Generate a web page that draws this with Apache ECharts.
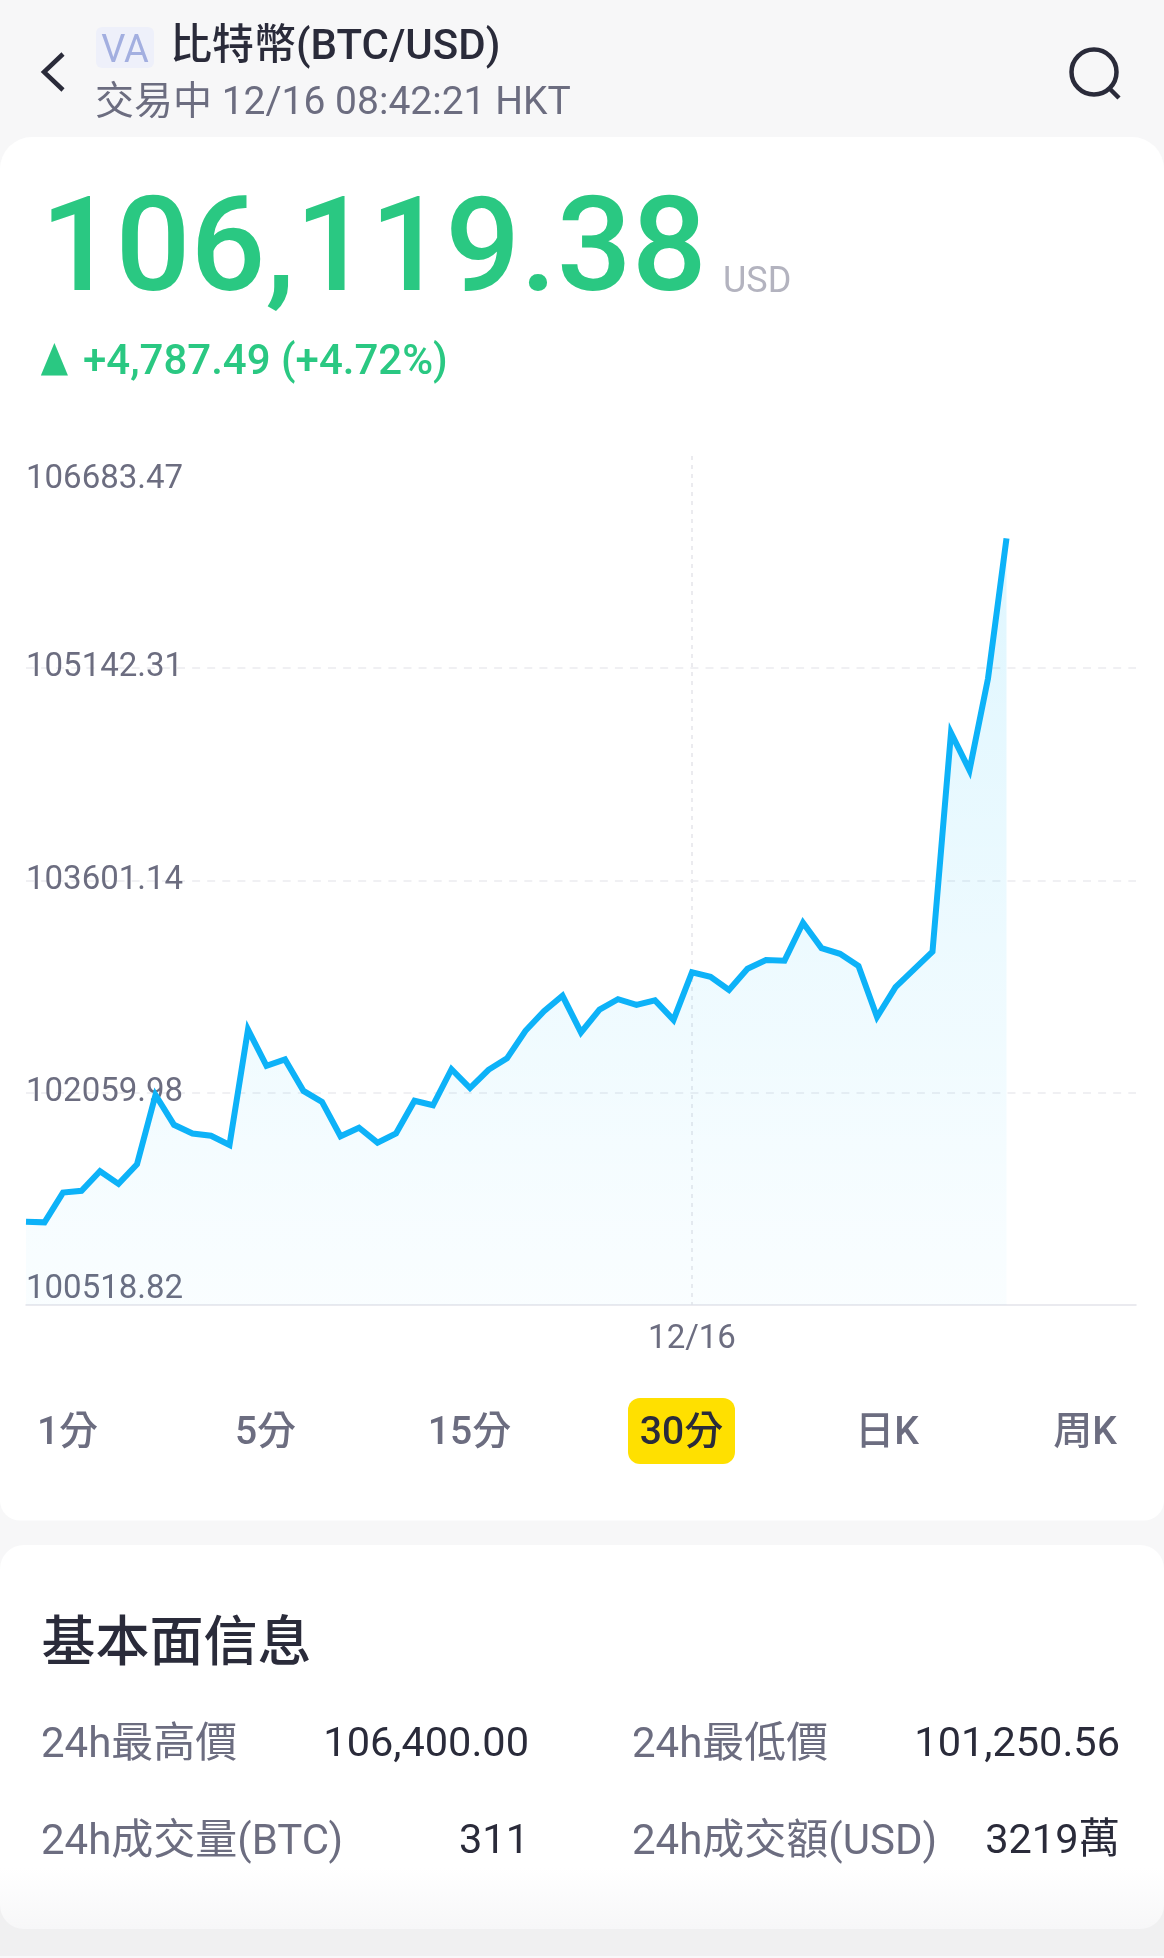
<!DOCTYPE html>
<html><head><meta charset="utf-8">
<style>html,body{margin:0;padding:0;background:#f7f7f8}#c{width:1164px;height:1958px}</style>
<script src="https://cdn.jsdelivr.net/npm/echarts@6/dist/echarts.min.js"></script>
</head><body><div id="c"></div>
<script>
const prices = [101123,101119,101335,101348,101490,101398,101540,102044,101827,101764,101748,101681,102519,102256,102302,102073,101994,101744,101806,101698,101765,102002,101969,102231,102094,102227,102310,102510,102652,102764,102498,102664,102739,102698,102731,102589,102935,102902,102806,102960,103023,103019,103294,103110,103069,102981,102610,102827,102956,103085,104673,104402,105068,106085];
const slotCount = 61;
const dateSlot = 36;
const dateLabel = '12/16';
const yTicks = [100518.82,102059.98,103601.14,105142.31,106683.47];
const tabs = ['1分','5分','15分','30分','日K','周K'];
const activeTab = '30分';
const statLabels = ['24h最高價','24h最低價','24h成交量(BTC)','24h成交額(USD)'];
const statValues = ['106,400.00','101,250.56','311','3219萬'];

const FONT = 'Roboto, "Noto Sans CJK TC", sans-serif';
const DARK = '#2a2b3a', GREY = '#6c6d80', GREEN = '#2ac882';
const slots = Array.from({length: slotCount}, (_, i) => i === dateSlot ? dateLabel : String(i));
const series = slots.map((_, i) => i < prices.length ? prices[i] : null);

function t(text, x, y, size, fill, weight, align) {
  return {type:'text', z:20, silent:true, style:{text, x, y, fill, font:`${weight||400} ${size}px ${FONT}`, align:align||'left', verticalAlign:'middle'}};
}
const tabX = [67.5,265.5,469.5,681.5,887,1085];
const tabEls = tabs.map((s,i) => t(s, tabX[i], 1434, 39, s===activeTab?DARK:GREY, 500, 'center'));
const statPos = [[41,529,1746],[632,1120,1746],[41,529,1843],[632,1120,1843]];
const statEls = [];
statLabels.forEach((s,i)=>{ statEls.push(t(s, statPos[i][0], statPos[i][2], 42, GREY, 400)); statEls.push(t(statValues[i], statPos[i][1], statPos[i][2], 41.5, DARK, 400, 'right')); });

const graphic = [
  {type:'rect', z:-12, silent:true, shape:{x:0,y:1880,width:1164,height:76}, style:{fill:'#f0f0f1'}},
  {type:'rect', z:-12, silent:true, shape:{x:0,y:1956,width:1164,height:2}, style:{fill:'#f8f8f9'}},
  {type:'rect', z:-10, silent:true, shape:{x:0,y:137,width:1164,height:1383.5,r:[32,32,20,20]}, style:{fill:'#fff'}},
  {type:'rect', z:-10, silent:true, shape:{x:0,y:1545,width:1164,height:384,r:24}, style:{fill:{type:'linear',x:0,y:0,x2:0,y2:1,colorStops:[{offset:0,color:'#fff'},{offset:0.84,color:'#fff'},{offset:1,color:'#f7f7f8'}]}}},
  {type:'polyline', z:20, silent:true, shape:{points:[[63,54],[44,72],[63,90]]}, style:{stroke:DARK,lineWidth:4.5,fill:'none'}},
  {type:'rect', z:15, silent:true, shape:{x:96,y:27,width:58,height:41,r:6}, style:{fill:'#eef0fa'}},
  t('VA',125,52,38,'#a3afe0',400,'center'),
  t('比特幣(BTC/USD)',170,48,42,DARK,500),
  t('交易中 12/16 08:42:21 HKT',95,104.5,39,GREY,400),
  {type:'circle', z:20, silent:true, shape:{cx:1094,cy:72,r:22.5}, style:{stroke:DARK,lineWidth:4.5,fill:'none'}},
  {type:'line', z:20, silent:true, shape:{x1:1109,y1:88,x2:1119,y2:98}, style:{stroke:DARK,lineWidth:4.5}},
  t('106,119.38',40.5,257,132,GREEN,500),
  t('USD',723,283,36,'#b3b3bf',400),
  {type:'text', z:20, silent:true, x:54.5, y:366, scaleX:0.9, scaleY:1.25, style:{text:'▲',x:0,y:0,fill:GREEN,font:`400 32px ${FONT}`,align:'center',verticalAlign:'middle'}},
  t('+4,787.49 (+4.72%)',83,363,42,GREEN,500),
  {type:'rect', z:15, silent:true, shape:{x:628,y:1398,width:107,height:66,r:12}, style:{fill:'#ffe000'}},
  ...tabEls,
  t('基本面信息',41.5,1647,54,DARK,500),
  ...statEls
];

const chart = echarts.init(document.getElementById('c'), null, {renderer:'canvas'});
chart.setOption({
  animation:false,
  backgroundColor:'#f7f7f8',
  textStyle:{fontFamily:FONT},
  graphic,
  grid:{left:26,right:28,top:456,bottom:653,containLabel:false},
  xAxis:{type:'category',boundaryGap:false,data:slots,
    axisLine:{show:true,lineStyle:{color:'#e3e4ea',width:1.5}},axisTick:{show:false},
    axisLabel:{interval:(i)=>i===dateSlot,formatter:(v)=>v===dateLabel?v:'',color:GREY,fontSize:33,fontFamily:FONT,margin:18},
    splitLine:{show:true,interval:(i)=>i===dateSlot,lineStyle:{color:'#ebebef',type:[4,5],width:2}}},
  yAxis:{type:'value',min:yTicks[0],max:yTicks[yTicks.length-1],
    axisLine:{show:false},axisTick:{show:false,customValues:yTicks},
    axisLabel:{inside:true,margin:0,customValues:yTicks,showMinLabel:true,showMaxLabel:true,
      verticalAlignMinLabel:'bottom',verticalAlignMaxLabel:'top',
      formatter:(v)=>{const n=+v;const s=n.toFixed(2);const tag=n<yTicks[1]?'lo':(n>yTicks[3]?'hi':'mid');return `{${tag}|${s}}`;},
      rich:{lo:{color:GREY,fontSize:33,fontFamily:FONT,lineHeight:31},hi:{color:GREY,fontSize:33,fontFamily:FONT,lineHeight:47},
        mid:{color:GREY,fontSize:33,fontFamily:FONT}}},
    splitLine:{show:true,showMinLine:false,showMaxLine:false,lineStyle:{color:'#ececf0',type:[8,7.1],width:1.5}}},
  series:[{type:'line',data:series,showSymbol:false,symbol:'none',smooth:false,connectNulls:false,
    lineStyle:{color:'#0db2f8',width:6,cap:'butt',join:'miter',miterLimit:10},
    areaStyle:{color:{type:'linear',x:0,y:0,x2:0,y2:1,colorStops:[{offset:0,color:'rgba(0,185,250,0.18)'},{offset:1,color:'rgba(0,185,250,0.03)'}]}}}]
});
</script></body></html>
